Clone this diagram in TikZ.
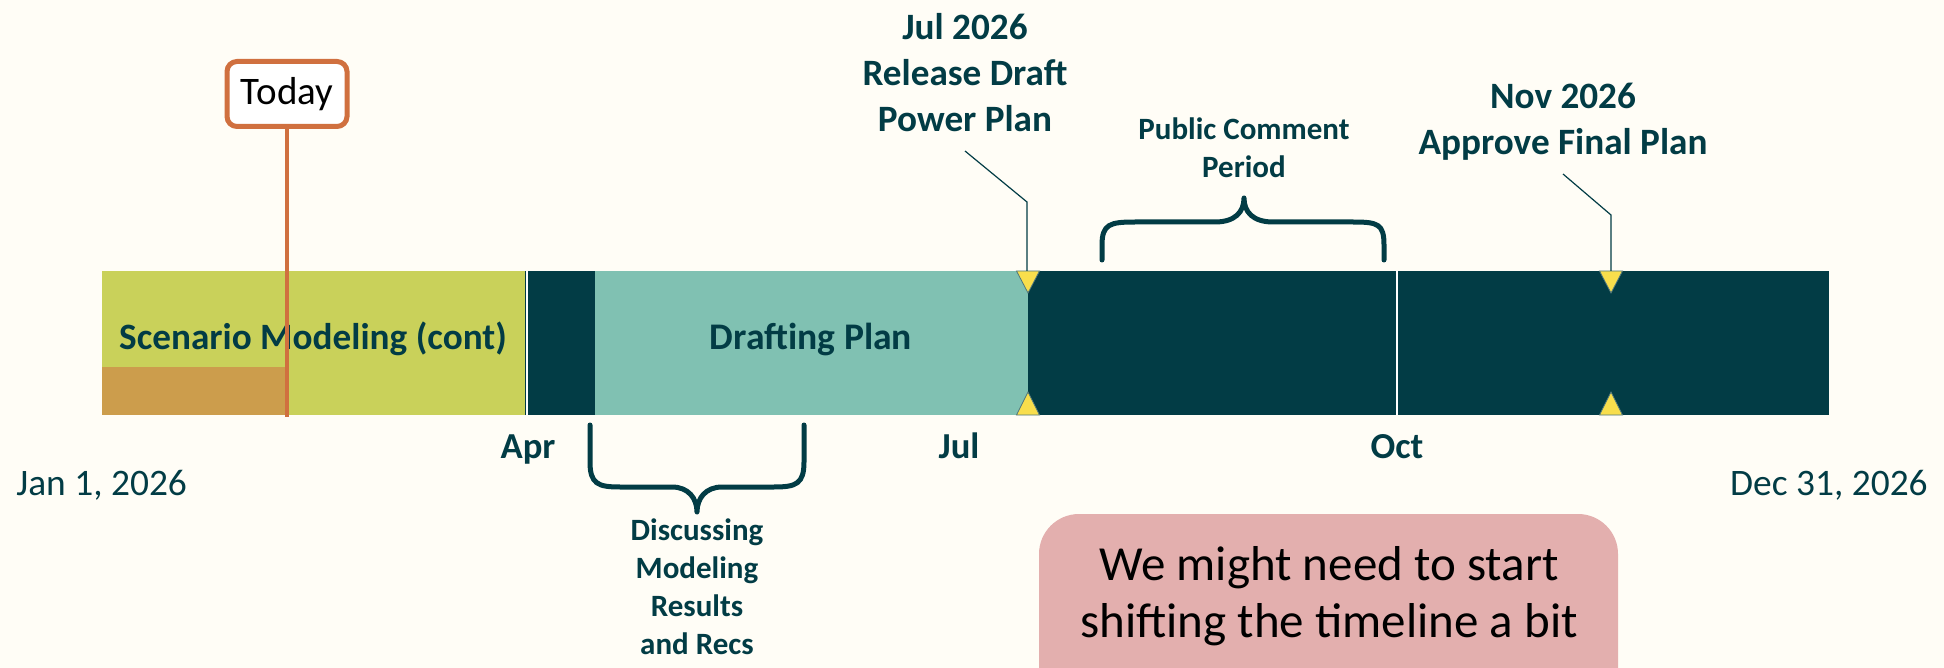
\documentclass[tikz,border=0pt]{standalone}
\usepackage{fontspec}
\setmainfont{Carlito}
\usetikzlibrary{positioning}
\definecolor{cream}{HTML}{FFFDF6}
\definecolor{deepteal}{HTML}{023C45}
\definecolor{lime}{HTML}{C9D15A}
\definecolor{tan}{HTML}{CC9D4C}
\definecolor{mint}{HTML}{80C1B2}
\definecolor{rust}{HTML}{D0703F}
\definecolor{gold}{HTML}{F8DE4C}
\definecolor{rose}{HTML}{E3AFAE}
\tikzset{
  lbl/.style={text=deepteal,font=\bfseries\fontsize{18.6}{23}\selectfont,
    align=center,inner sep=0pt},
  small/.style={text=deepteal,font=\bfseries\fontsize{15.5}{19}\selectfont,
    align=center,inner sep=0pt},
  month/.style={text=deepteal,font=\bfseries\fontsize{18.3}{20}\selectfont,
    inner sep=0pt,anchor=base},
  edgedate/.style={text=deepteal,font=\fontsize{18.7}{20}\selectfont,inner sep=0pt},
  lead/.style={draw=deepteal,line width=0.6pt},
  brc/.style={draw=deepteal,line width=2.5pt,line cap=round,line join=round},
  tri/.style={fill=gold,draw=deepteal!70,line width=0.4pt},
}

\begin{document}
\begin{tikzpicture}[x=0.5pt,y=-0.5pt]
\useasboundingbox (0,0) rectangle (1944,668);
\clip (0,0) rectangle (1944,668);
\fill[cream] (0,0) rectangle (1944,668);

% the bar
\fill[deepteal] (102,271) rectangle (1829,415);
\fill[lime] (102,271) rectangle (525,415);
\fill[tan] (102,367) rectangle (287,415);
\fill[mint] (595,271) rectangle (1028,415);
\draw[white,line width=1.2pt] (527,271) -- (527,415);
\draw[white,line width=0.6pt] (1397,271) -- (1397,415);
\foreach \mx in {1028,1611}{
  \filldraw[tri] (\mx-11.5,271) -- (\mx+11.5,271) -- (\mx,293) -- cycle;
  \filldraw[tri] (\mx-11.5,415) -- (\mx+11.5,415) -- (\mx,392) -- cycle;
}
\node (scen) [lbl,anchor=base] at (313,350) {Scenario Modeling (cont)};
\node (draft) [lbl,anchor=base,font=\bfseries\fontsize{18.8}{23}\selectfont]
  at (811,350) {Drafting Plan};

% today marker
\node (today) [draw=rust,line width=2.5pt,fill=white,rounded corners=5pt,
  minimum width=60pt,minimum height=32.5pt,inner sep=0pt,
  font=\fontsize{19.5}{22}\selectfont] at (287,94) {Today};
\coordinate (todayend) at (287,417);
\draw[rust,line width=2pt] (today.south) -- (todayend);

% milestones
\node (julnote) [lbl,anchor=north] at (965,13) {Jul 2026\\Release Draft\\Power Plan};
\coordinate (julfoot) at (965,151);
\coordinate (julbend) at (1027,202);
\coordinate (jultip) at (1027,271);
\draw[lead] (julfoot) -- (julbend) -- (jultip);

\node (novnote) [lbl,anchor=north] at (1563,83) {Nov 2026\\Approve Final Plan};
\coordinate (novfoot) at (1563,174);
\coordinate (novbend) at (1611,215);
\coordinate (novtip) at (1611,271);
\draw[lead] (novfoot) -- (novbend) -- (novtip);

% braces
\node (comment) [small,anchor=north] at (1244,117) {Public Comment\\Period};
\draw[brc] (1102,260) -- (1102,245) .. controls (1102,224) and (1110,222) .. (1135,222)
  -- (1215,222) .. controls (1235,222) and (1244,212) .. (1244,198)
  .. controls (1244,212) and (1253,222) .. (1273,222) -- (1353,222)
  .. controls (1378,222) and (1384,224) .. (1384,245) -- (1384,260);

\draw[brc] (590,425) -- (590,462) .. controls (590,484) and (598,487) .. (620,487)
  -- (672,487) .. controls (688,487) and (697,498) .. (697,512)
  .. controls (697,498) and (706,487) .. (722,487) -- (774,487)
  .. controls (796,487) and (804,484) .. (804,462) -- (804,425);
\node (discuss) [small,anchor=north] at (697,518) {Discussing\\Modeling\\Results\\and Recs};

% axis labels
\node (apr) [month] at (528,458) {Apr};
\node (jul) [month] at (959,458) {Jul};
\node (oct) [month] at (1397,458) {Oct};
\node (start) [edgedate,anchor=base west] at (16,495) {Jan 1, 2026};
\node (finish) [edgedate,anchor=base east] at (1928,495) {Dec 31, 2026};

% note
\fill[rose,rounded corners=20pt] (1039,514) rectangle (1618,720);
\node (note) [align=center,inner sep=0pt,anchor=base,
  font=\fontsize{24.5}{28.5}\selectfont] at (1329,637)
  {We might need to start\\shifting the timeline a bit};
\end{tikzpicture}
\end{document}
